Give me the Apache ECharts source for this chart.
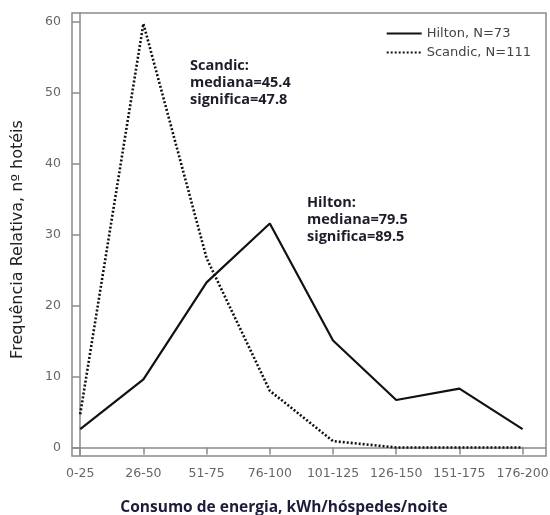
<!DOCTYPE html>
<html>
<head>
<meta charset="utf-8">
<script src="https://cdn.jsdelivr.net/npm/echarts@6/dist/echarts.min.js"></script>
<style>
  html, body { margin: 0; padding: 0; background: #fff; }
  #chart { width: 550px; height: 515px; }
</style>
</head>
<body>
<div id="chart"></div>
<script>
// faixas de consumo
var categories = ['0-25', '26-50', '51-75', '76-100', '101-125', '126-150', '151-175', '176-200'];
var hilton = [2.6, 9.6, 23.3, 31.6, 15.1, 6.7, 8.3, 2.6];
var scandic = [4.7, 59.8, 26.7, 8.0, 0.9, 0, 0, 0];
var yTicks = [0, 10, 20, 30, 40, 50, 60];

function pairs (arr) {
  return arr.map(function (v, i) { return [i, v]; });
}

var chart = echarts.init(document.getElementById('chart'));

var axisColor = '#8a8a8a';
var tickFont = { color: '#666', fontSize: 12.5, fontFamily: 'DejaVu Sans, sans-serif' };

var option = {
  animation: false,
  grid: {
    left: 72, top: 13, right: 4, bottom: 59,
    outerBoundsMode: 'none',
    containLabel: false,
    show: true, borderColor: axisColor, borderWidth: 1.5
  },
  legend: {
    orient: 'vertical',
    right: 14, top: 22,
    itemWidth: 35, itemHeight: 10, itemGap: 6,
    itemStyle: { opacity: 0 },
    textStyle: { color: '#444', fontSize: 13, fontFamily: 'DejaVu Sans, sans-serif' },
    data: ['Hilton, N=73', 'Scandic, N=111']
  },
  xAxis: {
    type: 'value',
    min: -0.13, max: 7.37,
    splitLine: { show: false },
    axisLine: { lineStyle: { color: axisColor, width: 1.5 } },
    axisTick: { length: 7, customValues: categories.map(function (c, i) { return i; }), lineStyle: { color: axisColor, width: 1.5 } },
    axisLabel: {
      customValues: categories.map(function (c, i) { return i; }),
      formatter: function (v) { return categories[Math.round(v)]; },
      margin: 11,
      color: tickFont.color, fontSize: tickFont.fontSize, fontFamily: tickFont.fontFamily
    },
    name: 'Consumo de energia, kWh/hóspedes/noite',
    nameLocation: 'middle',
    nameGap: 44,
    nameTextStyle: {
      color: '#1c1c3a', fontSize: 15.5, fontWeight: 'bold', fontFamily: 'Open Sans, sans-serif',
      padding: [0, 50, 0, 0]
    }
  },
  yAxis: {
    type: 'value',
    min: -1.2, max: 61.3,
    splitLine: { show: false },
    axisLine: { show: true, lineStyle: { color: axisColor, width: 1.5 } },
    axisTick: { show: true, length: 8, customValues: yTicks, lineStyle: { color: axisColor, width: 1.5 } },
    axisLabel: {
      customValues: yTicks,
      margin: 11,
      color: tickFont.color, fontSize: tickFont.fontSize, fontFamily: tickFont.fontFamily
    },
    name: 'Frequência Relativa, nº hotéis',
    nameLocation: 'middle',
    nameGap: 46,
    nameTextStyle: { color: '#222', fontSize: 16, fontFamily: 'DejaVu Sans, sans-serif', padding: [0, 10, 0, 0] }
  },
  graphic: [
    {
      type: 'text', left: 190, top: 57,
      style: {
        text: 'Scandic:\nmediana=45.4\nsignifica=47.8',
        fill: '#1c1c2a', font: 'bold 14.5px Open Sans, sans-serif', lineHeight: 17
      }
    },
    {
      type: 'text', left: 307, top: 194,
      style: {
        text: 'Hilton:\nmediana=79.5\nsignifica=89.5',
        fill: '#1c1c2a', font: 'bold 14.5px Open Sans, sans-serif', lineHeight: 17
      }
    }
  ],
  series: [
    {
      name: 'Hilton, N=73',
      type: 'line',
      data: pairs(hilton),
      symbol: 'none',
      itemStyle: { color: '#111' },
      lineStyle: { color: '#111', width: 2.2 }
    },
    {
      name: 'Scandic, N=111',
      type: 'line',
      data: pairs(scandic),
      symbol: 'none',
      itemStyle: { color: '#111' },
      lineStyle: { color: '#111', width: 2.6, type: [2, 2] }
    }
  ]
};

chart.setOption(option);
</script>
</body>
</html>
